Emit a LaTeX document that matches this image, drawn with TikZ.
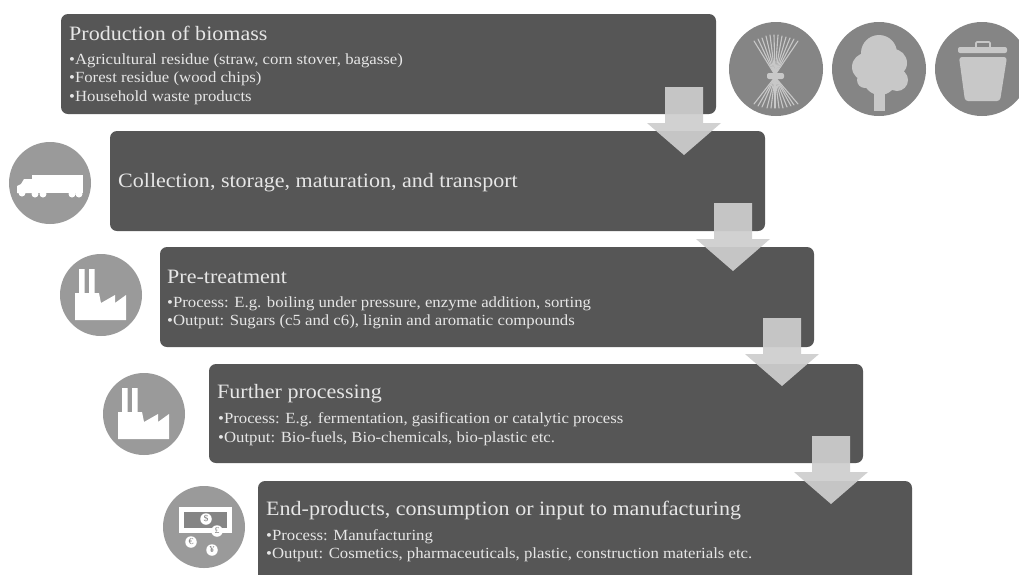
\documentclass[tikz,border=0pt]{standalone}
\usepackage{fontspec}
\setmainfont[FakeStretch=1.08]{Liberation Serif}
\definecolor{boxc}{HTML}{565656}
\definecolor{txtc}{HTML}{E6E6E6}
\definecolor{arrc}{HTML}{CECECE}
\definecolor{topc}{HTML}{858585}
\definecolor{lowc}{HTML}{9A9A9A}
\definecolor{iconl}{HTML}{C8C8C8}
\tikzset{
  stage/.style={fill=boxc,draw=none,rounded corners=7pt},
  ttl/.style={anchor=base west,inner sep=0pt,text=txtc,font=\fontsize{20.4}{20.4}\selectfont},
  itm/.style={anchor=base west,inner sep=0pt,text=txtc,font=\fontsize{15.5}{15.5}\selectfont},
  blockarrow/.style={fill=arrc,fill opacity=0.93,draw=none},
  badge/.style={circle,inner sep=0pt,minimum size=#1,draw=none},
  coin/.style={circle,fill=white,inner sep=0pt,minimum size=11.5pt,text=lowc!80!black,font=\fontsize{9}{9}\selectfont},
  pics/factory/.style={code={
    \fill[white] (-26,25) -- (-26,-2) -- (-22,-2) -- (-22,-26) -- (-16.3,-26) -- (-16.3,-2)
      -- (-12,-2) -- (-12,-26) -- (-6.3,-26) -- (-6.3,-2) -- (-2,-2) -- (0,8) -- (14,0) -- (14,8) -- (25,0) -- (25,25) -- cycle;
  }},
}
\begin{document}
\begin{tikzpicture}[x=1pt,y=-1pt]
\useasboundingbox (0,0) rectangle (1019,574);
\fill[white] (0,0) rectangle (1019,574);
\clip (0,0) rectangle (1019,574);
% stages
\path[stage] (61,14) rectangle (716,114);
\path[stage] (110,131) rectangle (765,231);
\path[stage] (160,247) rectangle (814,347);
\path[stage] (209,364) rectangle (863,463);
\path[stage] (258,481) rectangle (912,600);
% stage texts
\node[ttl] (t1) at (69,40) {Production of biomass};
\node[itm] (t1a) at (69,64) {•Agricultural residue (straw, corn stover, bagasse)};
\node[itm] (t1b) at (69,82) {•Forest residue  (wood chips)};
\node[itm] (t1c) at (69,101) {•Household waste products};
\node[ttl] (t2) at (118,187) {Collection, storage, maturation, and transport};
\node[ttl] (t3) at (167,283) {Pre-treatment};
\node[itm] (t3a) at (167,307) {•Process: E.g. boiling under pressure, enzyme addition, sorting};
\node[itm] (t3b) at (167,325) {•Output: Sugars (c5 and c6), lignin and aromatic compounds};
\node[ttl] (t4) at (217,398) {Further processing};
\node[itm] (t4a) at (218,423) {•Process: E.g. fermentation, gasification or catalytic process};
\node[itm] (t4b) at (218,442) {•Output: Bio-fuels, Bio-chemicals, bio-plastic etc.};
\node[ttl] (t5) at (266,515) {End-products, consumption or input to manufacturing};
\node[itm] (t5a) at (266,540) {•Process: Manufacturing};
\node[itm] (t5b) at (266,558) {•Output: Cosmetics, pharmaceuticals, plastic, construction materials etc.};
% block arrows
\foreach \dx/\dy in {0/0,49/116,98/231,147/349}{
  \begin{scope}[shift={(\dx,\dy)}]
    \path[blockarrow] (665,87) -- (703,87) -- (703,123) -- (721,123) -- (684,155) -- (647,123) -- (665,123) -- cycle;
  \end{scope}
}
% badges top
\node[badge=94pt,fill=topc] (straw) at (776,69) {};
\node[badge=94pt,fill=topc] (tree) at (879,69) {};
\node[badge=94pt,fill=topc] (bin) at (982,69) {};
% straw
\begin{scope}[draw=iconl,line width=1.1pt,line cap=round]
  \foreach \x/\y in {754/41,758/39,762/38,766/36,770/35,774/35,778/35,782/36,786/37,790/38,794/39,798/41}
    \draw (775,75) -- (\x,\y);
  \foreach \x/\y in {754/104,758/106,762/107,767/108,771/108,775/108,779/108,783/108,787/107,791/106,794/105,798/104}
    \draw (775,77) -- (\x,\y);
\end{scope}
\fill[iconl,rounded corners=2pt] (767,73) rectangle (784,79);
% tree
\fill[iconl] (879,53) circle[radius=18] (866,67) circle[radius=14] (893,63) circle[radius=14]
  (897,80) circle[radius=11] (865,80) circle[radius=8] (880,78) circle[radius=17];
\fill[iconl] (874,90) rectangle (885,111);
% bin
\draw[iconl,line width=1.6pt,rounded corners=1pt] (976,47) -- (976,42) -- (990,42) -- (990,47);
\fill[iconl,rounded corners=2pt] (958,47) rectangle (1007,53);
\fill[iconl,rounded corners=3pt] (959,57) -- (1007,57) -- (1000,101) -- (965,101) -- cycle;
% truck
\node[badge=82pt,fill=lowc] (truck) at (50,183) {};
\fill[white] (32,174.5) rectangle (83,193);
\fill[white] (17,193) -- (17,186) -- (21,184) -- (24,179) -- (32,179) -- (32,193) -- cycle;
\fill[white] (22,193) circle[radius=3.5] (35,194) circle[radius=3.5] (43,194) circle[radius=3.5]
  (72,194) circle[radius=3.5] (79,194) circle[radius=3.5];
% factories
\node[badge=82pt,fill=lowc] (fac1) at (101,295) {};
\pic at (101,295) {factory};
\node[badge=82pt,fill=lowc] (fac2) at (144,414) {};
\pic at (144,414) {factory};
% money
\node[badge=82pt,fill=lowc] (money) at (204,527) {};
\fill[white] (179,507) rectangle (232,533);
\fill[topc] (184,512) rectangle (227,528);
\node[coin] (c1) at (206,519) {\$};
\node[coin] (c2) at (217,531) {£};
\node[coin] (c3) at (191,542) {€};
\node[coin] (c4) at (212,550) {¥};
\end{tikzpicture}
\end{document}
